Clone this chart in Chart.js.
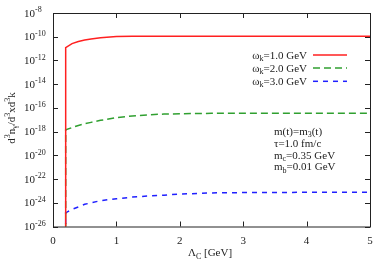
<!DOCTYPE html>
<html>
<head>
<meta charset="utf-8">
<script src="https://cdn.jsdelivr.net/npm/chart.js@4"></script>
<style>
html,body{margin:0;padding:0;background:#fff;}
canvas{display:block;}
</style>
</head>
<body>
<canvas id="c" width="389" height="273"></canvas>
<script>
// Lambda_C [GeV] (first point = drop from below the axis)
const lambdaC = [0.2, 0.2, 0.3, 0.4, 0.5, 0.6, 0.75, 1.0, 1.25, 1.5, 1.75, 2.0, 2.5, 3.0, 3.5, 4.0, 4.5, 5.0];
// omega_k = 1.0 GeV
const wk1 = [1e-30, 1.2e-11, 2.6e-11, 3.9e-11, 5.2e-11, 6.5e-11, 8.3e-11, 1.02e-10, 1.08e-10, 1.1e-10, 1.11e-10, 1.12e-10, 1.12e-10, 1.12e-10, 1.12e-10, 1.12e-10, 1.12e-10, 1.12e-10];
// omega_k = 2.0 GeV
const wk2 = [1e-30, 1.4e-18, 2.2e-18, 3.3e-18, 4.6e-18, 6.0e-18, 8.9e-18, 1.5e-17, 2.1e-17, 2.6e-17, 3.0e-17, 3.2e-17, 3.45e-17, 3.55e-17, 3.6e-17, 3.6e-17, 3.6e-17, 3.6e-17];
// omega_k = 3.0 GeV
const wk3 = [1e-30, 1.4e-25, 2.8e-25, 4.5e-25, 7.4e-25, 1.0e-24, 1.5e-24, 2.2e-24, 3.0e-24, 3.7e-24, 4.4e-24, 5.4e-24, 6.8e-24, 7.2e-24, 7.4e-24, 7.6e-24, 7.8e-24, 7.9e-24];

const seriesNames = ['1.0 GeV', '2.0 GeV', '3.0 GeV'];
const xTicks = [0, 1, 2, 3, 4, 5];
const yExponents = [-8, -10, -12, -14, -16, -18, -20, -22, -24, -26];

const COLORS = ['#ff2020', '#30a030', '#2020ff'];
const DASHES = [[], [7, 4], [5, 5]];
const FONT = '"Liberation Serif", "Times New Roman", serif';

function toPts(ys) { return lambdaC.map((x, i) => ({x: x, y: ys[i]})); }

function rich(ctx, parts, x, y, align) {
  // parts: [text, size, dy]
  let w = 0;
  parts.forEach(p => { ctx.font = p[1] + 'px ' + FONT; w += ctx.measureText(p[0]).width; });
  let cx = align === 'right' ? x - w : (align === 'center' ? x - w / 2 : x);
  parts.forEach(p => {
    ctx.font = p[1] + 'px ' + FONT;
    ctx.fillText(p[0], cx, y + (p[2] || 0));
    cx += ctx.measureText(p[0]).width;
  });
  return w;
}

const framePlugin = {
  id: 'frame',
  afterDraw(chart) {
    const ctx = chart.ctx, a = chart.chartArea;
    const xs = chart.scales.x, ys = chart.scales.y;
    ctx.save();
    ctx.strokeStyle = '#222';
    ctx.lineWidth = 1;
    ctx.setLineDash([]);
    ctx.strokeRect(a.left + 0.5, a.top + 0.5, a.right - a.left, a.bottom - a.top);
    ctx.beginPath();
    xTicks.forEach(v => {
      const px = Math.round(xs.getPixelForValue(v)) + 0.5;
      ctx.moveTo(px, a.bottom); ctx.lineTo(px, a.bottom - 5);
      ctx.moveTo(px, a.top); ctx.lineTo(px, a.top + 5);
    });
    ys.ticks.forEach(t => {
      const e = Math.round(Math.log10(t.value));
      const len = (e % 2 === 0) ? 5 : 2.5;
      const py = Math.round(ys.getPixelForValue(t.value)) + 0.5;
      ctx.moveTo(a.left, py); ctx.lineTo(a.left + len, py);
      ctx.moveTo(a.right, py); ctx.lineTo(a.right - len, py);
    });
    ctx.stroke();

    ctx.fillStyle = '#222';
    ctx.textBaseline = 'alphabetic';
    // y tick labels
    yExponents.forEach(e => {
      const py = ys.getPixelForValue(Math.pow(10, e));
      ctx.font = '11px ' + FONT;
      ctx.textAlign = 'left';
      const w10 = ctx.measureText('10').width;
      ctx.fillText('10', 35 - w10, py + 3.6);
      ctx.font = '8px ' + FONT;
      ctx.fillText(String(e), 35, py - 0.8);
    });
    // x tick labels
    ctx.font = '11px ' + FONT;
    ctx.textAlign = 'center';
    xTicks.forEach(v => {
      ctx.fillText(String(v), xs.getPixelForValue(v), 243.5);
    });
    ctx.textAlign = 'left';
    // x title
    rich(ctx, [['Λ', 11, 0], ['C', 8, 2.5], [' [GeV]', 11, 0]], 210, 256, 'center');
    // y title
    ctx.save();
    ctx.translate(14.5, 118);
    ctx.rotate(-Math.PI / 2);
    rich(ctx, [['d', 11, 0], ['3', 8, -4.5], ['n', 11, 0], ['γ', 8, 2.5], ['/d', 11, 0], ['3', 8, -4.5], ['xd', 11, 0], ['3', 8, -4.5], ['k', 11, 0]], 0, 0, 'center');
    ctx.restore();
    // legend
    const rowsY = [55, 68, 81.3];
    seriesNames.forEach((n, i) => {
      ctx.fillStyle = '#222';
      rich(ctx, [['ω', 11, 0], ['k', 8, 2.5], ['=' + n, 11, 0]], 307, rowsY[i] + 3.6, 'right');
      ctx.strokeStyle = COLORS[i];
      ctx.lineWidth = 1.5;
      ctx.setLineDash(DASHES[i]);
      ctx.beginPath();
      ctx.moveTo(313, rowsY[i]); ctx.lineTo(347, rowsY[i]);
      ctx.stroke();
    });
    ctx.setLineDash([]);
    // annotations
    ctx.fillStyle = '#222';
    const ay = [131, 143, 155, 166.5];
    rich(ctx, [['m(t)=m', 11, 0], ['3', 8, 2.5], ['(t)', 11, 0]], 274, ay[0] + 3.6, 'left');
    rich(ctx, [['τ=1.0 fm/c', 11, 0]], 274, ay[1] + 3.6, 'left');
    rich(ctx, [['m', 11, 0], ['c', 8, 2.5], ['=0.35 GeV', 11, 0]], 274, ay[2] + 3.6, 'left');
    rich(ctx, [['m', 11, 0], ['b', 8, 2.5], ['=0.01 GeV', 11, 0]], 274, ay[3] + 3.6, 'left');
    ctx.restore();
  }
};

new Chart(document.getElementById('c'), {
  type: 'line',
  data: {
    datasets: [wk1, wk2, wk3].map((d, i) => ({
      label: 'ωk=' + seriesNames[i],
      data: toPts(d),
      borderColor: COLORS[i],
      borderWidth: 1.5,
      borderDash: DASHES[i],
      pointRadius: 0,
      tension: 0,
      fill: false,
      clip: 0
    }))
  },
  options: {
    responsive: false,
    animation: false,
    devicePixelRatio: 1,
    layout: {padding: {left: 53, right: 19, top: 13, bottom: 46.5}},
    plugins: {legend: {display: false}, tooltip: {enabled: false}},
    scales: {
      x: {type: 'linear', min: 0, max: 5, display: false},
      y: {
        type: 'logarithmic', min: 1e-26, max: 1e-8, display: false,
        afterBuildTicks: s => {
          const t = [];
          for (let e = -26; e <= -8; e++) t.push({value: Math.pow(10, e)});
          s.ticks = t;
        }
      }
    }
  },
  plugins: [framePlugin]
});
</script>
</body>
</html>
